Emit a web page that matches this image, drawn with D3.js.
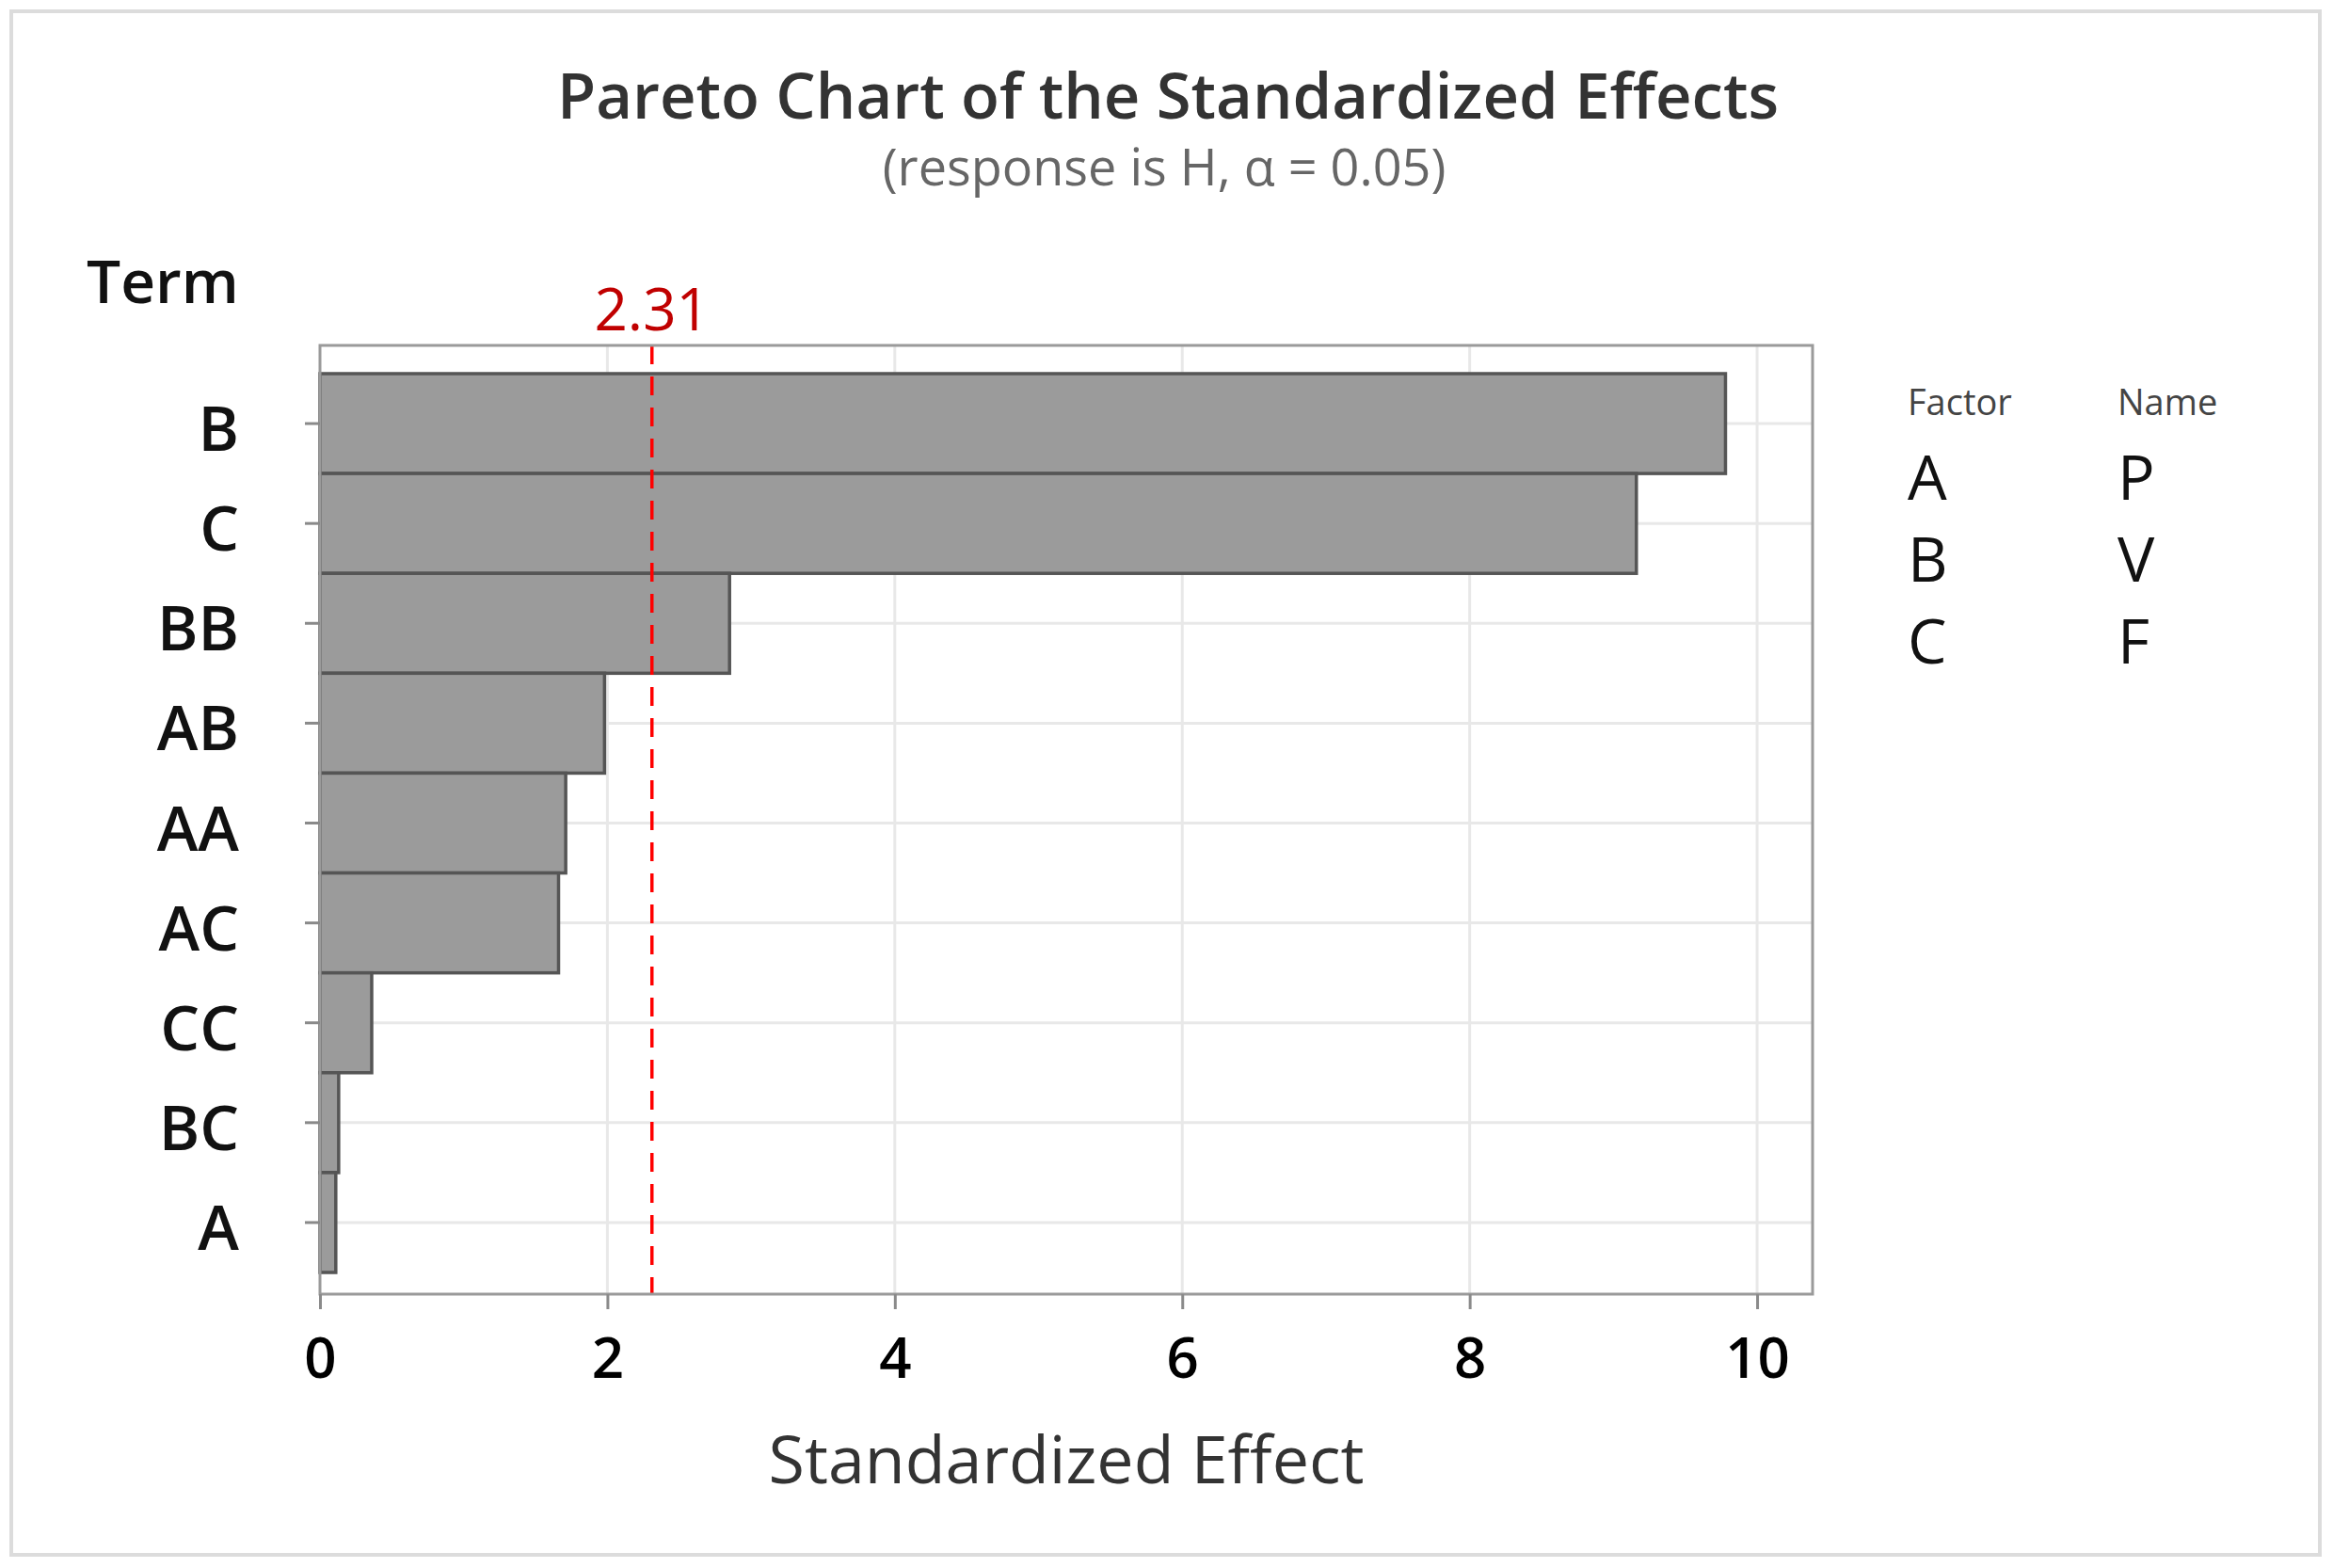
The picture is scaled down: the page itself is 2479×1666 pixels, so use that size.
<!DOCTYPE html>
<html>
<head>
<meta charset="utf-8">
<script src="https://cdn.jsdelivr.net/npm/d3@7"></script>
<style>
  body { margin: 0; background: #fff; }
  text { font-family: "Open Sans", "Noto Sans", sans-serif; }
</style>
</head>
<body>
<div id="chart"></div>
<script>
// data
const terms = ["B", "C", "BB", "AB", "AA", "AC", "CC", "BC", "A"]
const effects = [9.78, 9.16, 2.85, 1.98, 1.71, 1.66, 0.36, 0.13, 0.11]
const xTicks = [0, 2, 4, 6, 8, 10]
const critical = 2.31
const factorCodes = ["A", "B", "C"]
const factorNames = ["P", "V", "F"]

const dataset = terms.map((t, i) => ({ term: t, effect: effects[i] }))

const width = 2479
const height = 1666
let dimensions = {
    plotLeft: 340,
    plotRight: 1926,
    plotTop: 367,
    plotBottom: 1375,
    barsTop: 397,
    barsBottom: 1352,
}

const svg = d3.select('#chart')
    .append('svg')
    .attr("width", width)
    .attr("height", height)

// outer frame
svg.append("rect")
    .attr("x", 12)
    .attr("y", 12)
    .attr("width", width - 26)
    .attr("height", height - 26)
    .attr("fill", "#fff")
    .attr("stroke", "#dcdcdc")
    .attr("stroke-width", 4)

const xScale = d3.scaleLinear()
    .domain([0, 10.386])
    .range([dimensions.plotLeft, dimensions.plotRight])

const yScale = d3.scaleBand()
    .domain(terms)
    .range([dimensions.barsTop, dimensions.barsBottom])
    .padding(0)

// gridlines
const grid = svg.append("g").attr("class", "grid")
grid.selectAll(".vgrid")
    .data(xTicks.slice(1))
    .join("line")
    .attr("x1", d => xScale(d))
    .attr("x2", d => xScale(d))
    .attr("y1", dimensions.plotTop)
    .attr("y2", dimensions.plotBottom)
    .attr("stroke", "#e8e8e8")
    .attr("stroke-width", 3)
grid.selectAll(".hgrid")
    .data(terms)
    .join("line")
    .attr("x1", dimensions.plotLeft)
    .attr("x2", dimensions.plotRight)
    .attr("y1", d => yScale(d) + yScale.bandwidth() / 2)
    .attr("y2", d => yScale(d) + yScale.bandwidth() / 2)
    .attr("stroke", "#e8e8e8")
    .attr("stroke-width", 3)

// bars
svg.append("g")
    .selectAll("rect")
    .data(dataset)
    .join("rect")
    .attr("x", xScale(0))
    .attr("y", d => yScale(d.term))
    .attr("width", d => xScale(d.effect) - xScale(0))
    .attr("height", yScale.bandwidth())
    .attr("fill", "#9b9b9b")
    .attr("stroke", "#555")
    .attr("stroke-width", 3.5)

// reference line
svg.append("line")
    .attr("x1", xScale(critical))
    .attr("x2", xScale(critical))
    .attr("y1", dimensions.plotTop)
    .attr("y2", dimensions.plotBottom)
    .attr("stroke", "#ff0000")
    .attr("stroke-width", 3.5)
    .attr("stroke-dasharray", "20 13")

svg.append("text")
    .attr("x", xScale(critical))
    .attr("y", 351)
    .attr("text-anchor", "middle")
    .attr("fill", "#c00000")
    .style("font-size", "62px")
    .text(critical.toFixed(2))

// plot frame
svg.append("rect")
    .attr("x", dimensions.plotLeft)
    .attr("y", dimensions.plotTop)
    .attr("width", dimensions.plotRight - dimensions.plotLeft)
    .attr("height", dimensions.plotBottom - dimensions.plotTop)
    .attr("fill", "none")
    .attr("stroke", "#9a9a9a")
    .attr("stroke-width", 3)

// axes
const xAxisGenerator = d3.axisBottom(xScale)
    .tickValues(xTicks)
    .tickSize(16)
    .tickSizeOuter(0)
    .tickPadding(30)

const xAxis = svg.append("g")
    .attr("transform", `translate(0, ${dimensions.plotBottom})`)
    .call(xAxisGenerator)
xAxis.select(".domain").remove()
xAxis.selectAll(".tick line").attr("stroke", "#8a8a8a").attr("stroke-width", 3)
xAxis.selectAll(".tick text")
    .attr("fill", "#000")
    .style("font-size", "60px")
    .style("font-weight", 600)
    .style("font-family", "'Open Sans', sans-serif")

const yAxisGenerator = d3.axisLeft(yScale)
    .tickSize(16)
    .tickSizeOuter(0)
    .tickPadding(70)

const yAxis = svg.append("g")
    .attr("transform", `translate(${dimensions.plotLeft}, 0)`)
    .call(yAxisGenerator)
yAxis.select(".domain").remove()
yAxis.selectAll(".tick line").attr("stroke", "#8a8a8a").attr("stroke-width", 3)
yAxis.selectAll(".tick text")
    .attr("fill", "#111")
    .attr("dy", "0.44em")
    .style("font-size", "66px")
    .style("font-weight", 600)
    .style("font-family", "'Open Sans', sans-serif")

// titles
svg.append("text")
    .attr("x", 1241)
    .attr("y", 126)
    .attr("text-anchor", "middle")
    .attr("fill", "#333")
    .style("font-size", "67px")
    .style("font-weight", 600)
    .text("Pareto Chart of the Standardized Effects")

svg.append("text")
    .attr("x", 1237)
    .attr("y", 197)
    .attr("text-anchor", "middle")
    .attr("fill", "#666")
    .style("font-size", "54px")
    .text("(response is H, α = 0.05)")

svg.append("text")
    .attr("x", 92)
    .attr("y", 322)
    .attr("fill", "#111")
    .style("font-size", "64px")
    .style("font-weight", 600)
    .text("Term")

svg.append("text")
    .attr("x", (dimensions.plotLeft + dimensions.plotRight) / 2)
    .attr("y", 1576)
    .attr("text-anchor", "middle")
    .attr("fill", "#333")
    .style("font-size", "70px")
    .text("Standardized Effect")

// factor legend
const legend = svg.append("g")
legend.append("text")
    .attr("x", 2027).attr("y", 441)
    .attr("fill", "#444")
    .style("font-size", "38px")
    .text("Factor")
legend.append("text")
    .attr("x", 2250).attr("y", 441)
    .attr("fill", "#444")
    .style("font-size", "38px")
    .text("Name")

const rowY = d3.scalePoint()
    .domain(factorCodes)
    .range([531, 705])

legend.selectAll(".code")
    .data(factorCodes)
    .join("text")
    .attr("x", 2027)
    .attr("y", d => rowY(d))
    .attr("fill", "#111")
    .style("font-size", "66px")
    .text(d => d)
legend.selectAll(".fname")
    .data(factorNames)
    .join("text")
    .attr("x", 2250)
    .attr("y", (d, i) => rowY(factorCodes[i]))
    .attr("fill", "#111")
    .style("font-size", "66px")
    .text(d => d)
</script>
</body>
</html>
